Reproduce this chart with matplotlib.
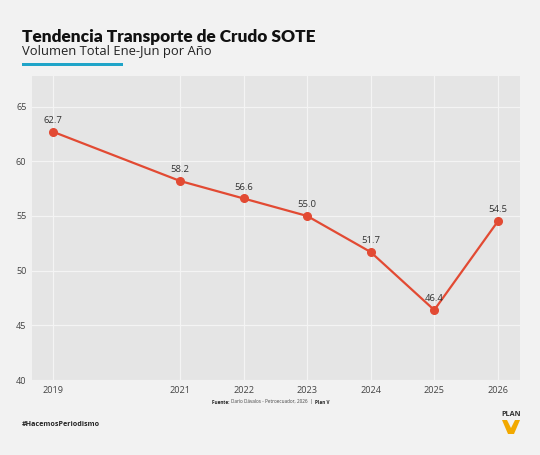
import numpy as np
import matplotlib.pyplot as plt
from matplotlib.patches import Polygon, Rectangle

# data
years = [2019, 2021, 2022, 2023, 2024, 2025, 2026]
volumen = [62.7, 58.2, 56.6, 55.0, 51.7, 46.4, 54.5]
yticks = [40, 45, 50, 55, 60, 65]

title = 'Tendencia Transporte de Crudo SOTE'
subtitle = 'Volumen Total Ene-Jun por Año'
fuente = 'Darío Dávalos - Petroecuador, 2026  |  '

plt.rcParams['font.family'] = ['Open Sans', 'DejaVu Sans']

fig = plt.figure(figsize=(5.4, 4.55), dpi=100)
fig.patch.set_facecolor('#f2f2f2')

ax = fig.add_axes([0.0593, 0.1648, 0.9037, 0.6682])
ax.set_facecolor('#e5e5e5')
ax.plot(years, volumen, color='#e24a33', linewidth=1.6, marker='o', markersize=5.5, zorder=3)
for x, y in zip(years, volumen):
    ax.annotate(f'{y:.1f}', (x, y), xytext=(0, 5), textcoords='offset points',
                ha='center', va='bottom', fontsize=6.8, color='#333333', zorder=4)

ax.set_xticks(years)
ax.set_xticklabels([str(y) for y in years])
ax.set_yticks(yticks)
ax.set_ylim(40, 67.8)
ax.set_xlim(2019 - 0.33, 2026 + 0.35)
ax.grid(True, color='#f4f4f4', linewidth=0.9)
ax.set_axisbelow(True)
for s in ax.spines.values():
    s.set_visible(False)
ax.tick_params(axis='both', length=0, labelsize=6.6, labelcolor='#444444', pad=4)

# header
fig.text(22 / 540, 1 - 37 / 455, title, fontsize=12.4, fontweight='heavy', color='#111111',
         va='center', family=['Lato', 'DejaVu Sans'])
fig.text(22 / 540, 1 - 52 / 455, subtitle, fontsize=9.4, color='#222222', va='center')
fig.patches.append(Rectangle((22 / 540, 1 - 66 / 455), 101 / 540, 3 / 455,
                             transform=fig.transFigure, facecolor='#1fa4c8', edgecolor='none'))

# footer
t1 = fig.text(212 / 540, 1 - 402 / 455, 'Fuente: ', fontsize=3.3, fontweight='bold', color='#222222', va='center')
fig.canvas.draw()
r = fig.canvas.get_renderer()
bb = t1.get_window_extent(r)
t2 = fig.text(bb.x1 / fig.bbox.width, 1 - 402 / 455, fuente, fontsize=3.3, color='#444444', va='center')
bb2 = t2.get_window_extent(r)
fig.text(bb2.x1 / fig.bbox.width, 1 - 402 / 455, 'Plan V', fontsize=3.3, fontweight='bold', color='#222222', va='center')

fig.text(22 / 540, 1 - 424 / 455, '#HacemosPeriodismo', fontsize=5.1, fontweight='bold', color='#222222', va='center')

# Plan V logo
fig.text(511 / 540, 1 - 415 / 455, 'PLAN', fontsize=5.2, fontweight='bold', color='#333333', ha='center', va='center')
vx = np.array([502, 507, 511, 515, 520, 514, 508]) / 540
vy = 1 - np.array([420, 420, 428, 420, 420, 434, 434]) / 455
fig.patches.append(Polygon(np.column_stack([vx, vy]), closed=True, transform=fig.transFigure,
                           facecolor='#f2a900', edgecolor='none'))

fig.savefig('out.png', dpi=100, facecolor=fig.get_facecolor())
